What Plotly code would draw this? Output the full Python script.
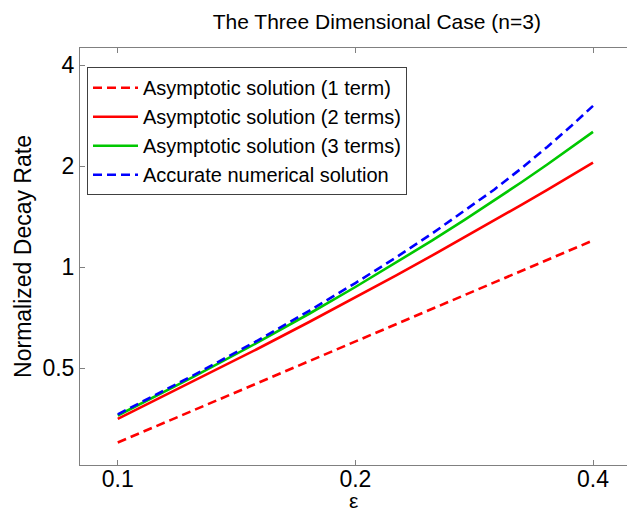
import plotly.graph_objects as go
import math

eps = [0.1, 0.125, 0.15, 0.175, 0.2, 0.225, 0.25, 0.275, 0.3, 0.325, 0.35, 0.375, 0.4]
asym1 = [0.300, 0.375, 0.450, 0.525, 0.600, 0.675, 0.750, 0.825, 0.900, 0.975, 1.050, 1.125, 1.200]
asym2 = [0.353, 0.458, 0.569, 0.687, 0.812, 0.943, 1.081, 1.226, 1.377, 1.535, 1.699, 1.870, 2.048]
asym3 = [0.361, 0.472, 0.594, 0.727, 0.872, 1.028, 1.198, 1.382, 1.580, 1.792, 2.021, 2.266, 2.528]
accurate = [0.364, 0.477, 0.602, 0.742, 0.896, 1.067, 1.257, 1.470, 1.703, 1.973, 2.280, 2.626, 3.021]

x_ticks = [0.1, 0.2, 0.4]
x_ticklabels = ["0.1", "0.2", "0.4"]
y_ticks = [0.5, 1, 2, 4]
y_ticklabels = ["0.5", "1", "2", "4"]

names = ["Asymptotic solution (1 term)", "Asymptotic solution (2 terms)",
         "Asymptotic solution (3 terms)", "Accurate numerical solution"]
series = [asym1, asym2, asym3, accurate]
colors = ["#FF0000", "#FF0000", "#00C800", "#0000FF"]
dashes = ["9px,5px", "solid", "solid", "9px,5px"]

FONT = "Liberation Sans, Arial, Helvetica, sans-serif"

fig = go.Figure()
for n, s, c, d in zip(names, series, colors, dashes):
    fig.add_trace(go.Scatter(x=eps, y=s, mode="lines", name=n,
                             line=dict(color=c, width=2.6, dash=d)))

fig.update_layout(
    width=627, height=512,
    paper_bgcolor="white", plot_bgcolor="white",
    margin=dict(l=80, r=0, t=48, b=47, autoexpand=False),
    font=dict(family=FONT, color="black"),
    title=dict(text="The Three Dimensional Case (n=3)", x=0.601, xanchor="center",
               y=0.957, yanchor="middle", font=dict(size=21, family=FONT)),
    showlegend=True,
    legend=dict(x=0.0128, y=0.954, xanchor="left", yanchor="top",
                bgcolor="white", bordercolor="#404040", borderwidth=1,
                font=dict(size=20, family=FONT), tracegroupgap=0,
                itemwidth=45),
    annotations=[dict(text="ε", xref="paper", yref="paper", x=0.5, y=-0.086,
                      xanchor="center", yanchor="middle", showarrow=False,
                      font=dict(size=21, family=FONT))],
)
fig.update_xaxes(
    type="log", range=[math.log10(0.08957), math.log10(0.4417)],
    tickvals=x_ticks, ticktext=x_ticklabels, tickfont=dict(size=23),
    ticks="inside", ticklen=5, tickcolor="#808080", ticklabelstandoff=-7,
    showline=True, linecolor="#808080", linewidth=1, mirror="ticks",
    showgrid=False, zeroline=False, automargin=False,
)
fig.update_yaxes(
    type="log", range=[math.log10(0.2571), math.log10(4.495)],
    tickvals=y_ticks, ticktext=y_ticklabels, tickfont=dict(size=23),
    ticks="inside", ticklen=5, tickcolor="#808080",
    showline=True, linecolor="#808080", linewidth=1,
    showgrid=False, zeroline=False, automargin=False,
    title=dict(text="Normalized Decay Rate", font=dict(size=23), standoff=4),
)

fig.write_html("out.html", config={"displayModeBar": False},
               post_script="document.body.style.margin='0px';document.body.style.overflow='hidden';")
